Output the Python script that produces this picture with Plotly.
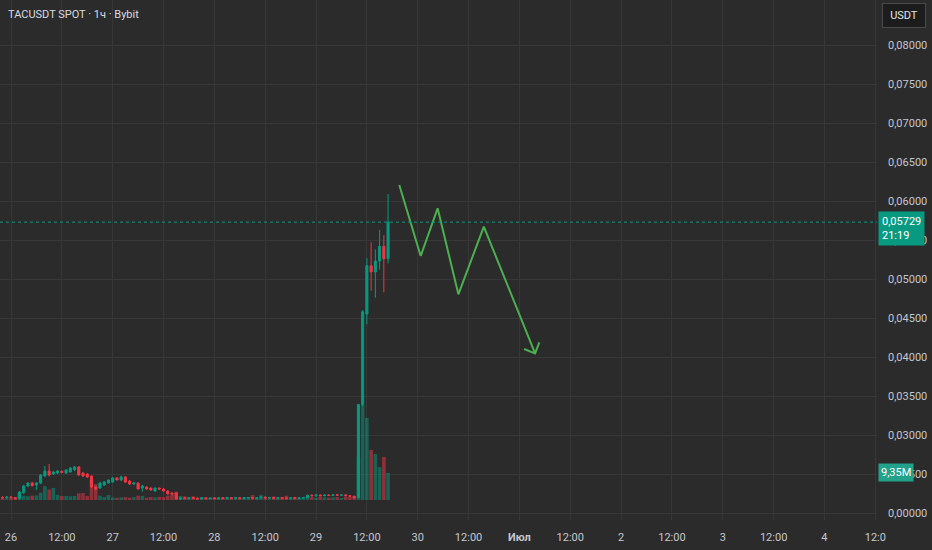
import pandas as pd
import plotly.graph_objects as go

# ---------------- data ----------------
title_text = "TACUSDT SPOT · 1ч · Bybit"
base_time = "2025-06-26 00:00"

hours = list(range(-2, 90))
opens = [0.02200, 0.02195, 0.02205, 0.02195, 0.02185, 0.02260, 0.02346, 0.02385, 0.02360, 0.02385,
         0.02474, 0.02538, 0.02500, 0.02513, 0.02535, 0.02513, 0.02526, 0.02555, 0.02590, 0.02513,
         0.02500, 0.02474, 0.02333, 0.02320, 0.02359, 0.02385, 0.02397, 0.02449, 0.02423, 0.02462,
         0.02410, 0.02372, 0.02385, 0.02320, 0.02333, 0.02320, 0.02282, 0.02320, 0.02308, 0.02282,
         0.02256, 0.02256, 0.02179, 0.02192, 0.02185, 0.02195, 0.02188, 0.02182, 0.02193, 0.02185,
         0.02190, 0.02186, 0.02194, 0.02188, 0.02195, 0.02190, 0.02196, 0.02189, 0.02194, 0.02198,
         0.02190, 0.02195, 0.02205, 0.02195, 0.02200, 0.02190, 0.02196, 0.02191, 0.02188, 0.02195,
         0.02189, 0.02194, 0.02198, 0.02228, 0.02220, 0.02230, 0.02222, 0.02230, 0.02224, 0.02233,
         0.02228, 0.02232, 0.02222, 0.02215, 0.02195, 0.03390, 0.04550, 0.05170, 0.05090, 0.05230,
         0.05420, 0.05260]
highs = [0.02215, 0.02210, 0.02215, 0.02205, 0.02280, 0.02360, 0.02395, 0.02400, 0.02395, 0.02500,
         0.02603, 0.02628, 0.02540, 0.02550, 0.02545, 0.02560, 0.02590, 0.02600, 0.02600, 0.02520,
         0.02510, 0.02480, 0.02340, 0.02400, 0.02410, 0.02430, 0.02460, 0.02460, 0.02480, 0.02470,
         0.02420, 0.02400, 0.02390, 0.02360, 0.02340, 0.02325, 0.02330, 0.02325, 0.02315, 0.02290,
         0.02265, 0.02260, 0.02200, 0.02205, 0.02200, 0.02205, 0.02200, 0.02198, 0.02200, 0.02197,
         0.02200, 0.02198, 0.02202, 0.02198, 0.02205, 0.02200, 0.02204, 0.02199, 0.02203, 0.02205,
         0.02200, 0.02210, 0.02210, 0.02205, 0.02205, 0.02200, 0.02202, 0.02200, 0.02198, 0.02200,
         0.02198, 0.02202, 0.02235, 0.02240, 0.02235, 0.02240, 0.02235, 0.02238, 0.02240, 0.02245,
         0.02238, 0.02240, 0.02230, 0.02220, 0.03400, 0.04600, 0.05270, 0.05470, 0.05380, 0.05630,
         0.05560, 0.06090]
lows = [0.02190, 0.02185, 0.02190, 0.02175, 0.02175, 0.02245, 0.02335, 0.02340, 0.02295, 0.02370,
        0.02460, 0.02470, 0.02490, 0.02500, 0.02510, 0.02500, 0.02520, 0.02540, 0.02480, 0.02460,
        0.02450, 0.02320, 0.02290, 0.02310, 0.02350, 0.02380, 0.02390, 0.02420, 0.02410, 0.02390,
        0.02360, 0.02360, 0.02300, 0.02273, 0.02300, 0.02290, 0.02275, 0.02300, 0.02275, 0.02240,
        0.02240, 0.02175, 0.02170, 0.02180, 0.02175, 0.02180, 0.02178, 0.02175, 0.02180, 0.02178,
        0.02182, 0.02180, 0.02185, 0.02180, 0.02186, 0.02182, 0.02186, 0.02182, 0.02188, 0.02185,
        0.02183, 0.02190, 0.02190, 0.02188, 0.02185, 0.02184, 0.02188, 0.02185, 0.02182, 0.02185,
        0.02183, 0.02188, 0.02195, 0.02215, 0.02212, 0.02215, 0.02215, 0.02218, 0.02218, 0.02222,
        0.02220, 0.02215, 0.02210, 0.02185, 0.02190, 0.03370, 0.04420, 0.04850, 0.04760, 0.05120,
        0.04830, 0.05200]
closes = [0.02195, 0.02205, 0.02195, 0.02185, 0.02269, 0.02346, 0.02385, 0.02350, 0.02385, 0.02487,
          0.02538, 0.02487, 0.02526, 0.02538, 0.02520, 0.02551, 0.02577, 0.02590, 0.02487, 0.02474,
          0.02462, 0.02333, 0.02308, 0.02385, 0.02397, 0.02423, 0.02449, 0.02423, 0.02462, 0.02397,
          0.02372, 0.02385, 0.02308, 0.02346, 0.02308, 0.02295, 0.02320, 0.02308, 0.02282, 0.02244,
          0.02244, 0.02179, 0.02192, 0.02185, 0.02195, 0.02188, 0.02182, 0.02193, 0.02185, 0.02190,
          0.02186, 0.02194, 0.02188, 0.02195, 0.02190, 0.02196, 0.02189, 0.02194, 0.02198, 0.02190,
          0.02195, 0.02205, 0.02195, 0.02200, 0.02190, 0.02196, 0.02191, 0.02188, 0.02195, 0.02189,
          0.02194, 0.02198, 0.02228, 0.02220, 0.02230, 0.02222, 0.02230, 0.02224, 0.02233, 0.02228,
          0.02232, 0.02222, 0.02215, 0.02195, 0.03390, 0.04580, 0.05170, 0.05090, 0.05230, 0.05420,
          0.05260, 0.05729]
volumes_m = [0.6, 0.5, 0.6, 0.9, 2.4, 1.5, 1.3, 1.5, 1.6, 2.6,
             4.8, 3.6, 4.2, 1.8, 1.4, 1.4, 1.3, 1.4, 2.3, 2.4,
             1.4, 6.9, 5.5, 1.5, 1.0, 1.7, 0.9, 0.8, 0.9, 1.0,
             0.8, 1.0, 1.5, 1.4, 0.8, 1.0, 0.9, 1.1, 1.0, 1.5,
             2.0, 2.9, 1.4, 1.3, 0.9, 1.3, 0.8, 1.0, 0.9, 0.8,
             1.0, 0.7, 0.9, 1.0, 0.8, 0.9, 0.7, 0.9, 1.0, 1.7,
             0.8, 1.8, 0.9, 0.8, 1.2, 0.8, 1.0, 1.5, 0.8, 1.1,
             0.7, 0.8, 1.4, 1.0, 0.8, 1.2, 0.9, 0.8, 0.9, 1.0,
             0.7, 1.1, 1.2, 1.4, 14.9, 32.9, 28.4, 17.3, 15.9, 11.4,
             14.9, 9.35]

price_ticks = [0.020, 0.025, 0.030, 0.035, 0.040, 0.045, 0.050, 0.055, 0.060, 0.065, 0.070, 0.075, 0.080]
price_tick_labels = ["0,00000", "0,02500", "0,03000", "0,03500", "0,04000", "0,04500", "0,05000",
                     "0,05500", "0,06000", "0,06500", "0,07000", "0,07500", "0,08000"]
time_tick_hours = [0, 12, 24, 36, 48, 60, 72, 84, 96, 108, 120, 132, 144, 156, 168, 180, 192, 204]
time_tick_labels = ["26", "12:00", "27", "12:00", "28", "12:00", "29", "12:00", "30", "12:00",
                    "<b>Июл</b>", "12:00", "2", "12:00", "3", "12:00", "4", "12:0"]

last_price = 0.05729
last_price_label = "0,05729<br>21:19"
last_volume_m = 9.35
last_volume_label = "9,35M"

forecast_hours = [91.65, 96.7, 100.7, 105.6, 111.6, 123.7]
forecast_prices = [0.06205, 0.05295, 0.05906, 0.04804, 0.05671, 0.04047]
arrowhead_hours = [121.1, 123.7, 124.7]
arrowhead_prices = [0.04103, 0.04047, 0.04188]

# ---------------- style ----------------
BG = "#2b2b2b"
GRID = "#373737"
UP = "#089981"
DOWN = "#f23645"
UP_VOL = "rgba(8,153,129,0.5)"
DOWN_VOL = "rgba(242,54,69,0.5)"
TXT = "#c4c7cf"
FONT = "Roboto, 'Liberation Sans', sans-serif"

t0 = pd.Timestamp(base_time)
def to_time(hs):
    return [t0 + pd.Timedelta(hours=h) for h in hs]

times = to_time(hours)
vol_colors = [UP_VOL if c >= o else DOWN_VOL for o, c in zip(opens, closes)]

fig = go.Figure()
fig.add_trace(go.Bar(
    x=times, y=[v * 1e6 for v in volumes_m], marker_color=vol_colors, marker_line_width=0,
    width=3600 * 1000 * 0.85, yaxis="y", hoverinfo="skip", showlegend=False))
fig.add_trace(go.Candlestick(
    x=times, open=opens, high=highs, low=lows, close=closes, yaxis="y2",
    increasing=dict(line=dict(color=UP, width=1), fillcolor=UP),
    decreasing=dict(line=dict(color=DOWN, width=1), fillcolor=DOWN),
    whiskerwidth=0, showlegend=False, hoverinfo="skip"))
fig.add_trace(go.Scatter(
    x=to_time(forecast_hours), y=forecast_prices, mode="lines", yaxis="y2",
    line=dict(color="#4caf50", width=2), showlegend=False, hoverinfo="skip"))
fig.add_trace(go.Scatter(
    x=to_time(arrowhead_hours), y=arrowhead_prices, mode="lines", yaxis="y2",
    line=dict(color="#4caf50", width=2), showlegend=False, hoverinfo="skip"))

fig.add_shape(type="line", xref="paper", x0=0, x1=1, yref="y2", y0=last_price, y1=last_price,
              line=dict(color=UP, width=1, dash="dot"))

fig.update_layout(
    width=932, height=550, autosize=False,
    paper_bgcolor=BG, plot_bgcolor=BG,
    margin=dict(l=0, r=55, t=0, b=30),
    font=dict(family=FONT, size=11, color=TXT),
    showlegend=False, bargap=0.1,
    xaxis=dict(
        type="date", range=to_time([-2.596, 204.4]),
        tickvals=to_time(time_tick_hours), ticktext=time_tick_labels,
        showgrid=True, gridcolor=GRID, gridwidth=1, zeroline=False, showline=False,
        ticks="", ticklabelstandoff=9, tickfont=dict(size=11, color=TXT),
        rangeslider=dict(visible=False), fixedrange=True),
    yaxis=dict(range=[-6.93e6, 173.15e6], visible=False, showgrid=False, zeroline=False, fixedrange=True),
    yaxis2=dict(
        overlaying="y", side="right", range=[0.019103, 0.085769],
        tickvals=price_ticks, ticktext=price_tick_labels,
        showgrid=True, gridcolor=GRID, gridwidth=1, zeroline=False, showline=False,
        ticks="", ticklabelstandoff=10, tickfont=dict(size=11, color=TXT), fixedrange=True),
)

fig.add_annotation(text=title_text, xref="paper", yref="paper", x=0, y=1, xanchor="left", yanchor="top",
                   xshift=6, yshift=-6, showarrow=False, font=dict(size=11, color="#d8dbe2"))
fig.add_annotation(text="USDT", xref="paper", yref="paper", x=1, y=1, xanchor="left", yanchor="top",
                   xshift=5, yshift=-3, showarrow=False, bgcolor="#1c1c1c", bordercolor="#4a4a4a",
                   borderwidth=1, borderpad=5, width=32, font=dict(size=11, color="#e0e3eb"))
fig.add_annotation(text=last_price_label, xref="paper", yref="y2", x=1, y=last_price, xanchor="left",
                   yanchor="middle", xshift=1, yshift=-6, showarrow=False, bgcolor=UP, align="left",
                   borderpad=3, font=dict(size=11, color="#ffffff"))
fig.add_annotation(text=last_volume_label, xref="paper", yref="y", x=1, y=last_volume_m * 1e6,
                   xanchor="left", yanchor="middle", xshift=1, showarrow=False, bgcolor="#22a18b",
                   borderpad=2, font=dict(size=11, color="#ffffff"))

fig.write_html("out.html", config={"displayModeBar": False},
               post_script="document.body.style.margin='0';document.body.style.overflow='hidden';")
